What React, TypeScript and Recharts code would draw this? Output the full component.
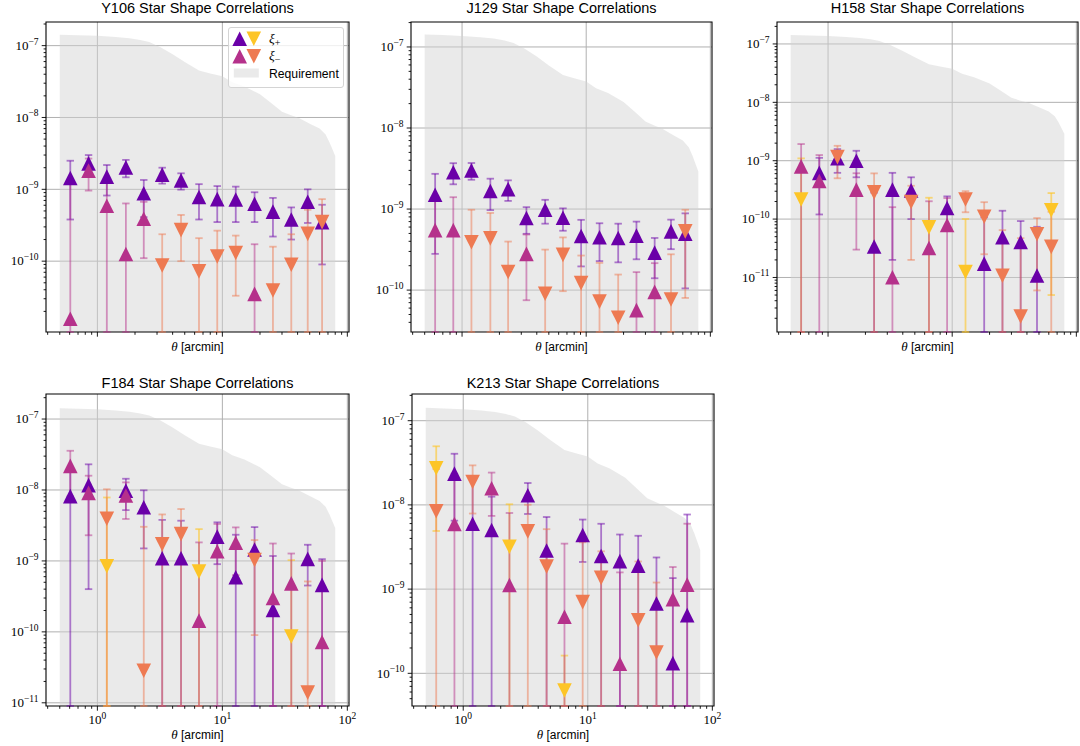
import React from 'react';
import {
  ComposedChart,
  Area,
  Scatter,
  ErrorBar,
  XAxis,
  YAxis,
  CartesianGrid,
  ReferenceArea,
  Legend,
} from 'recharts';

// ---------- data ----------
const THETA = [0.607, 0.85, 1.19, 1.69, 2.35, 3.3, 4.67, 6.5, 9.1, 12.8, 18.1, 25.4, 35.6, 48.2, 62.8];

const REQ_THETA = [0.5, 0.7, 1.0, 1.4, 1.8, 2.2, 2.6, 3.2, 4.0, 5.0, 6.5, 8.0, 10, 12, 15, 20, 25, 30, 35, 41, 50, 60, 67, 72, 76, 80];
const REQ_VALUE = [1.42e-7, 1.4e-7, 1.37e-7, 1.32e-7, 1.27e-7, 1.2e-7, 1.12e-7, 9.5e-8, 7.6e-8, 5.9e-8, 4.5e-8, 4.1e-8, 3.75e-8, 3.1e-8, 2.7e-8, 2.1e-8, 1.55e-8, 1.2e-8, 1.08e-8, 9.8e-9, 8.2e-9, 7.0e-9, 5.8e-9, 4.5e-9, 3.6e-9, 2.9e-9];

const Y106_XIP = [1.44e-9, 2.3e-9, 1.5e-9, 2.02e-9, 8.8e-10, 1.6e-9, 1.33e-9, 7.8e-10, 7.3e-10, 7.2e-10, 6.3e-10, 4.9e-10, 3.8e-10, 6.7e-10, 3.5e-10];
const Y106_XIP_ERR = [1.06e-9, 0.7e-9, 0.68e-9, 0.55e-9, 0.47e-9, 0.4e-9, 0.34e-9, 0.4e-9, 0.38e-9, 0.37e-9, 0.28e-9, 0.27e-9, 0.18e-9, 0.33e-9, 0.26e-9];
const Y106_XIM = [1.58e-11, 1.82e-9, 5.9e-10, 1.26e-10, 3.9e-10, -8.7e-11, -2.7e-10, -7.2e-11, -1.16e-10, -1.3e-10, 3.5e-11, -3.9e-11, -8.9e-11, -2.4e-10, -3.5e-10];
const Y106_XIM_ERR = [1.22e-9, 0.86e-9, 0.68e-9, 5.1e-10, 2.8e-10, 1.5e-10, 1.7e-10, 1.37e-10, 1.5e-10, 0.97e-10, 1.37e-10, 1.2e-10, 1.48e-10, 2.8e-10, 3.8e-10];

const J129_XIP = [1.5e-9, 2.85e-9, 3.0e-9, 1.67e-9, 1.76e-9, 7.75e-10, 9.8e-10, 7.8e-10, 4.66e-10, 4.48e-10, 4.4e-10, 4.7e-10, 2.9e-10, 5.3e-10, 4.95e-10];
const J129_XIP_ERR = [1.22e-9, 0.83e-9, 0.7e-9, 0.7e-9, 0.5e-9, 0.28e-9, 0.32e-9, 0.24e-9, 0.27e-9, 0.22e-9, 0.22e-9, 0.23e-9, 0.15e-9, 0.21e-9, 0.39e-9];
const J129_XIM = [5.5e-10, 5.5e-10, -3.9e-10, -4.35e-10, -1.67e-10, 2.8e-10, -9.0e-11, -2.72e-10, -1.22e-10, -7.2e-11, -4.55e-11, 5.66e-11, 9.5e-11, -7.65e-11, -5.3e-10];
const J129_XIM_ERR = [8e-10, 8.5e-10, 5.9e-10, 4.6e-10, 2.3e-10, 2.05e-10, 2.26e-10, 1.75e-10, 1.45e-10, 1.45e-10, 1.1e-10, 1.1e-10, 1.2e-10, 2.0e-10, 4.5e-10];

const H158_XIP = [-2.16e-10, 6.2e-10, 1.1e-9, 1.0e-9, 3.4e-11, 3.2e-10, 3.1e-10, -7.2e-11, 1.55e-10, -1.24e-11, 1.73e-11, 4.9e-11, 4.06e-11, 1.08e-11, -1.42e-10];
const H158_XIP_ERR = [8.8e-10, 5.0e-10, 4.8e-10, 4.8e-10, 2.5e-10, 3.0e-10, 2.1e-10, 1.6e-10, 0.9e-10, 8.8e-11, 9e-11, 9e-11, 5.2e-11, 6.3e-11, 1.37e-10];
const H158_XIM = [8.0e-10, 4.5e-10, -1.15e-9, 3.2e-10, -2.87e-10, 1.01e-11, -1.96e-10, 3.2e-11, 7.9e-11, -2.16e-10, -1.1e-10, -1.07e-11, -2.15e-12, -5.5e-11, -3.34e-11];
const H158_XIM_ERR = [1.13e-9, 8e-10, 6.5e-10, 2.9e-10, 3.2e-10, 1.5e-10, 1.76e-10, 1.7e-10, 1.5e-10, 0.85e-10, 0.85e-10, 5.4e-11, 4.5e-11, 4.9e-11, 1e-10];

const F184_XIP = [8.2e-9, 1.17e-8, -8.4e-10, 9.8e-9, 5.7e-9, 1.09e-9, 1.09e-9, -7.06e-10, 2.2e-9, 5.9e-10, 1.45e-9, 2.04e-10, -8.6e-11, 1.07e-9, 4.6e-10];
const F184_XIP_ERR = [1.0e-8, 1.13e-8, 7e-9, 4.6e-9, 4.2e-9, 2.7e-9, 2.6e-9, 2.1e-9, 1.3e-9, 1.75e-9, 1.55e-9, 9.7e-10, 9.4e-10, 6.2e-10, 6.0e-10];
const F184_XIM = [2.19e-8, 9.1e-9, -3.94e-9, 8.35e-9, -2.83e-11, -1.72e-9, -2.39e-9, 1.44e-10, 1.37e-9, 1.8e-9, -1.03e-9, 3.0e-10, 4.82e-10, -1.39e-11, 7.2e-11];
const F184_XIM_ERR = [1.38e-8, 6.8e-9, 6.3e-9, 4.45e-9, 3.0e-9, 2.8e-9, 3.0e-9, 1.68e-9, 1.95e-9, 1.17e-9, 9.4e-10, 1.46e-9, 7.9e-10, 5.0e-10, 9.3e-10];

const K213_XIP = [-2.73e-8, 2.35e-8, 5.98e-9, 5.03e-9, -3.18e-9, 1.3e-8, 2.88e-9, -6.24e-11, 4.4e-9, 2.47e-9, 2.15e-9, 1.9e-9, 6.76e-10, 1.32e-10, 4.91e-10];
const K213_XIP_ERR = [2.24e-8, 1.7e-8, 1.36e-8, 7.5e-9, 7e-9, 5.2e-9, 4.3e-9, 1e-10, 2.3e-9, 3.5e-9, 2.3e-9, 2.4e-9, 1.7e-9, 1.22e-9, 7.2e-9];
const K213_XIM = [-8.4e-9, 5.93e-9, -1.87e-8, 1.58e-8, 1.12e-9, -4.85e-9, -1.85e-9, 4.69e-10, -7.0e-10, -1.36e-9, 1.3e-10, -4.27e-10, -1.77e-10, 7.6e-10, 1.13e-9];
const K213_XIM_ERR = [1.83e-8, 1.75e-8, 1.08e-8, 0.84e-8, 6.9e-9, 5.2e-9, 3.3e-9, 3.0e-9, 2.9e-9, 1.45e-9, 1.45e-9, 1.7e-9, 1.02e-9, 1.07e-9, 4.85e-9];

// axis limits (log10 exponents)
const X_LIM_EXP = [-0.4112, 2.0133];
const Y106_YLIM = [-10.986, -6.671];
const J129_YLIM = [-10.517, -6.692];
const H158_YLIM = [-11.934, -6.624];
const F184_YLIM = [-11.045, -6.647];
const K213_YLIM = [-10.388, -6.683];

// ---------- style ----------
const C_XIP_POS = '#6a00a8';
const C_XIP_NEG = '#fdc527';
const C_XIM_POS = '#b5318b';
const C_XIM_NEG = '#ee7a52';
const ERR_XIP_POS = 'rgba(106,0,168,0.5)';
const ERR_XIP_NEG = 'rgba(253,197,39,0.6)';
const ERR_XIM_POS = 'rgba(181,49,139,0.5)';
const ERR_XIM_NEG = 'rgba(238,122,82,0.5)';
const FILL_REQ = '#d3d3d3';
const SERIF = "'Liberation Serif', 'DejaVu Serif', serif";
const SANS = "'Liberation Sans', Arial, sans-serif";
const TRI = 7.3;

type PanelCfg = {
  title: string;
  xip: number[];
  xipErr: number[];
  xim: number[];
  ximErr: number[];
  ylim: number[];
  plot: { l: number; t: number; w: number; h: number };
  titleTop: number;
  labelTop: number;
  xLabels: boolean;
  legend: boolean;
};

const PANELS: PanelCfg[] = [
  { title: 'Y106 Star Shape Correlations', xip: Y106_XIP, xipErr: Y106_XIP_ERR, xim: Y106_XIM, ximErr: Y106_XIM_ERR, ylim: Y106_YLIM, plot: { l: 46, t: 22, w: 303, h: 310 }, titleTop: 0, labelTop: 340.3, xLabels: false, legend: true },
  { title: 'J129 Star Shape Correlations', xip: J129_XIP, xipErr: J129_XIP_ERR, xim: J129_XIM, ximErr: J129_XIM_ERR, ylim: J129_YLIM, plot: { l: 411, t: 22, w: 301, h: 310 }, titleTop: 0, labelTop: 340.3, xLabels: false, legend: false },
  { title: 'H158 Star Shape Correlations', xip: H158_XIP, xipErr: H158_XIP_ERR, xim: H158_XIM, ximErr: H158_XIM_ERR, ylim: H158_YLIM, plot: { l: 777, t: 22, w: 301, h: 310 }, titleTop: 0, labelTop: 340.3, xLabels: false, legend: false },
  { title: 'F184 Star Shape Correlations', xip: F184_XIP, xipErr: F184_XIP_ERR, xim: F184_XIM, ximErr: F184_XIM_ERR, ylim: F184_YLIM, plot: { l: 46, t: 394, w: 303, h: 312 }, titleTop: 374.6, labelTop: 728.3, xLabels: true, legend: false },
  { title: 'K213 Star Shape Correlations', xip: K213_XIP, xipErr: K213_XIP_ERR, xim: K213_XIM, ximErr: K213_XIM_ERR, ylim: K213_YLIM, plot: { l: 412, t: 394, w: 302, h: 312 }, titleTop: 374.6, labelTop: 728.3, xLabels: true, legend: false },
];

// ---------- helpers ----------
function logTicks(lo: number, hi: number) {
  const major: number[] = [];
  const all: number[] = [];
  for (let e = Math.floor(lo); e <= Math.ceil(hi); e++) {
    for (let k = 1; k <= 9; k++) {
      const v = k * Math.pow(10, e);
      const lg = Math.log10(v);
      if (lg >= lo - 1e-9 && lg <= hi + 1e-9) {
        all.push(v);
        if (k === 1) major.push(v);
      }
    }
  }
  return { major, all };
}

function isMajor(v: number) {
  const lg = Math.log10(v);
  return Math.abs(lg - Math.round(lg)) < 1e-6;
}

function expLabel(v: number) {
  const e = Math.round(Math.log10(v));
  return e < 0 ? '\u2212' + Math.abs(e) : String(e);
}

// error bars whose lower end falls below the axis are cut at the axis bottom
function points(vals: number[], errs: number[], positive: boolean, floor: number) {
  const out: { x: number; y: number; err: number[] }[] = [];
  vals.forEach((v, i) => {
    if (positive ? v > 0 : v < 0) {
      const a = Math.abs(v);
      const e = errs[i];
      const lower = a - e <= floor ? a - floor : e;
      out.push({ x: THETA[i], y: a, err: [lower, e] });
    }
  });
  return out;
}

function triPoints(cx: number, cy: number, up: boolean, h = TRI) {
  return up
    ? `${cx},${cy - h} ${cx - h},${cy + h} ${cx + h},${cy + h}`
    : `${cx},${cy + h} ${cx - h},${cy - h} ${cx + h},${cy - h}`;
}

const makeShape = (color: string, up: boolean) => (p: any) => {
  if (p == null || p.cx == null || p.cy == null || isNaN(p.cx) || isNaN(p.cy)) return <g />;
  return <polygon points={triPoints(p.cx, p.cy, up)} fill={color} />;
};

const XTick = (props: any) => {
  const { x, y, payload, showLabel } = props;
  const v = payload.value;
  const major = isMajor(v);
  const len = major ? 4.7 : 2.8;
  return (
    <g>
      <line x1={x} x2={x} y1={y} y2={y + len} stroke="#000" strokeWidth={0.9} />
      {major && showLabel && (
        <text x={x} y={y + 18} textAnchor="middle" fontFamily={SERIF} fontSize={13} fill="#000">
          10
          <tspan dy={-5.5} fontSize={9.5}>{expLabel(v)}</tspan>
        </text>
      )}
    </g>
  );
};

const YTick = (props: any) => {
  const { x, y, payload } = props;
  const v = payload.value;
  const major = isMajor(v);
  const len = major ? 4.3 : 2.4;
  return (
    <g>
      <line x1={x - len} x2={x} y1={y} y2={y} stroke="#000" strokeWidth={0.9} />
      {major && (
        <text x={x - 7.5} y={y + 4.3} textAnchor="end" fontFamily={SERIF} fontSize={13} fill="#000">
          10
          <tspan dy={-5.4} fontSize={9.5}>{expLabel(v)}</tspan>
        </text>
      )}
    </g>
  );
};

const LegendBox = () => (
  <div
    style={{
      position: 'relative',
      width: 116,
      height: 61,
      boxSizing: 'border-box',
      border: '1px solid #d4d4d4',
      borderRadius: 3,
      background: 'rgba(255,255,255,0.8)',
    }}
  >
    <svg width={116} height={61} style={{ position: 'absolute', left: -1, top: -1 }}>
      <polygon points={triPoints(11.7, 11.7, true)} fill={C_XIP_POS} />
      <polygon points={triPoints(25.8, 11.7, false)} fill={C_XIP_NEG} />
      <text x={41} y={15.5} fontFamily={SERIF} fontStyle="italic" fontSize={13.5} fill="#000">
        ξ<tspan dy={3} fontSize={10} fontStyle="normal">+</tspan>
      </text>
      <polygon points={triPoints(11.7, 29.3, true)} fill={C_XIM_POS} />
      <polygon points={triPoints(25.8, 29.3, false)} fill={C_XIM_NEG} />
      <text x={41} y={33} fontFamily={SERIF} fontStyle="italic" fontSize={13.5} fill="#000">
        ξ<tspan dy={3} fontSize={10} fontStyle="normal">{'\u2212'}</tspan>
      </text>
      <rect x={5.8} y={41.5} width={25} height={9} fill={FILL_REQ} fillOpacity={0.47} />
      <text x={41} y={50.6} fontFamily={SANS} fontSize={12.2} fill="#000">Requirement</text>
    </svg>
  </div>
);

const ML = 46;
const MT = 22;
const MR = 12;
const MB = 40;

function Panel({ cfg }: { cfg: PanelCfg }) {
  const { plot } = cfg;
  const width = plot.w + ML + MR;
  const height = plot.h + MT + MB;
  const left = plot.l - ML;
  const top = plot.t - MT;
  const xDom = [Math.pow(10, X_LIM_EXP[0]), Math.pow(10, X_LIM_EXP[1])];
  const yDom = [Math.pow(10, cfg.ylim[0]), Math.pow(10, cfg.ylim[1])];
  const xt = logTicks(X_LIM_EXP[0], X_LIM_EXP[1]);
  const yt = logTicks(cfg.ylim[0], cfg.ylim[1]);
  const reqData = REQ_THETA.map((x, i) => ({ x, req: REQ_VALUE[i] }));
  const series = [
    { key: 'xip+', data: points(cfg.xip, cfg.xipErr, true, yDom[0]), color: C_XIP_POS, err: ERR_XIP_POS, up: true },
    { key: 'xip-', data: points(cfg.xip, cfg.xipErr, false, yDom[0]), color: C_XIP_NEG, err: ERR_XIP_NEG, up: false },
    { key: 'xim+', data: points(cfg.xim, cfg.ximErr, true, yDom[0]), color: C_XIM_POS, err: ERR_XIM_POS, up: true },
    { key: 'xim-', data: points(cfg.xim, cfg.ximErr, false, yDom[0]), color: C_XIM_NEG, err: ERR_XIM_NEG, up: false },
  ];
  return (
    <>
      <div style={{ position: 'absolute', left, top, width, height }}>
        <ComposedChart width={width} height={height} data={reqData} margin={{ top: MT, right: MR, bottom: 0, left: 0 }}>
          <CartesianGrid horizontalValues={yt.major} verticalValues={xt.major} stroke="#b0b0b0" strokeWidth={1} fill="none" />
          <XAxis
            dataKey="x"
            type="number"
            scale="log"
            domain={xDom}
            allowDataOverflow
            ticks={xt.all}
            interval={0}
            height={MB}
            tickSize={0}
            tickMargin={0}
            tickLine={false}
            axisLine={false}
            tick={(p: any) => <XTick {...p} showLabel={cfg.xLabels} />}
          />
          <YAxis
            type="number"
            scale="log"
            domain={yDom}
            allowDataOverflow
            ticks={yt.all}
            interval={0}
            width={ML}
            tickSize={0}
            tickMargin={0}
            tickLine={false}
            axisLine={false}
            tick={(p: any) => <YTick {...p} />}
          />
          <Area
            dataKey="req"
            type="linear"
            stroke="none"
            fill={FILL_REQ}
            fillOpacity={0.47}
            baseValue={yDom[0]}
            isAnimationActive={false}
            dot={false}
            activeDot={false}
          />
          {series.map((s) => (
            <Scatter key={s.key} data={s.data} dataKey="y" fill={s.color} shape={makeShape(s.color, s.up)} isAnimationActive={false}>
              <ErrorBar dataKey="err" direction="y" width={3.7} stroke={s.err} strokeWidth={1.8} isAnimationActive={false} />
            </Scatter>
          ))}
          <ReferenceArea
            x1={xDom[0]}
            x2={xDom[1]}
            y1={yDom[0]}
            y2={yDom[1]}
            fill="none"
            fillOpacity={0}
            stroke="#000"
            strokeWidth={1.1}
            ifOverflow="visible"
          />
          {cfg.legend && (
            <Legend
              layout="vertical"
              align="center"
              verticalAlign="middle"
              wrapperStyle={{ position: 'absolute', left: 227.5, top: 26.5, width: 116, height: 61 }}
              content={() => <LegendBox />}
            />
          )}
        </ComposedChart>
      </div>
      <div
        style={{
          position: 'absolute',
          left: plot.l - 40,
          width: plot.w + 80,
          top: cfg.titleTop,
          textAlign: 'center',
          fontFamily: SANS,
          fontSize: 14.5,
          lineHeight: '16px',
          color: '#000',
          whiteSpace: 'nowrap',
        }}
      >
        {cfg.title}
      </div>
      <div
        style={{
          position: 'absolute',
          left: plot.l,
          width: plot.w,
          top: cfg.labelTop,
          textAlign: 'center',
          fontFamily: SANS,
          fontSize: 12,
          lineHeight: '14px',
          color: '#000',
          whiteSpace: 'nowrap',
        }}
      >
        <span style={{ fontFamily: SERIF, fontStyle: 'italic', fontSize: 13 }}>θ</span> [arcmin]
      </div>
    </>
  );
}

export default function App() {
  return (
    <div style={{ position: 'fixed', left: 0, top: 0, width: 1080, height: 746, background: '#fff', overflow: 'hidden' }}>
      {PANELS.map((p) => (
        <Panel key={p.title} cfg={p} />
      ))}
    </div>
  );
}
